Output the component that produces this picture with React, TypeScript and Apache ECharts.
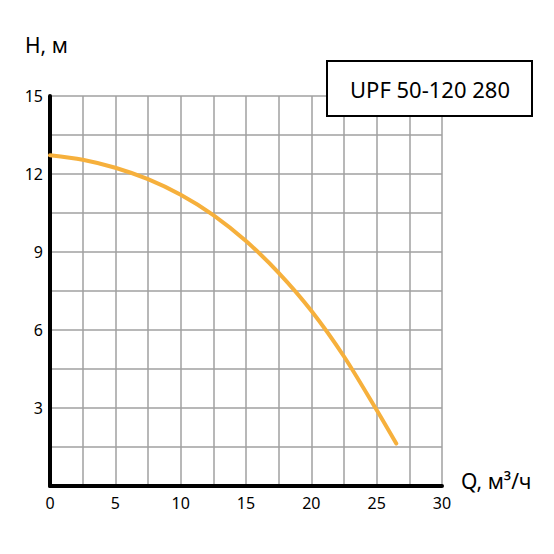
import React, { useEffect, useRef } from 'react';
import * as echarts from 'echarts';

// Q, м³/ч — flow values
const flow = [0, 2.5, 5, 7.5, 10, 12.5, 15, 17.5, 20, 22.5, 25, 26.5];
// H, м — head values
const head = [12.72, 12.55, 12.24, 11.8, 11.2, 10.42, 9.42, 8.2, 6.74, 4.98, 2.92, 1.63];

const xTicks = [0, 5, 10, 15, 20, 25, 30];
const yTicks = [3, 6, 9, 12, 15];
const modelName = 'UPF 50-120 280';

const FONT = '"Noto Sans", "Open Sans", sans-serif';

const App: React.FC = () => {
  const ref = useRef<HTMLDivElement | null>(null);

  useEffect(() => {
    if (!ref.current) return;
    const chart = echarts.init(ref.current, undefined, { renderer: 'svg' });
    chart.setOption({
      animation: false,
      backgroundColor: '#fff',
      grid: { left: 50, top: 96, right: 112, bottom: 68 },
      xAxis: {
        type: 'value', min: 0, max: 30, interval: 2.5,
        axisLine: { show: true, onZero: false, lineStyle: { color: '#000', width: 4 } },
        axisTick: { show: false },
        splitLine: { show: true, lineStyle: { color: '#a0a0a0', width: 1.5 } },
        axisLabel: {
          margin: 9, fontSize: 16, color: '#000', fontFamily: FONT,
          formatter: (v: number) => (xTicks.includes(v) ? String(v) : ''),
        },
      },
      yAxis: {
        type: 'value', min: 0, max: 15, interval: 1.5,
        axisLine: { show: true, onZero: false, lineStyle: { color: '#000', width: 4 } },
        axisTick: { show: false },
        splitLine: { show: true, lineStyle: { color: '#a0a0a0', width: 1.5 } },
        axisLabel: {
          margin: 7, fontSize: 16, color: '#000', fontFamily: FONT,
          formatter: (v: number) => (yTicks.includes(v) ? String(v) : ''),
        },
      },
      series: [{
        type: 'line',
        data: flow.map((q, i) => [q, head[i]]),
        smooth: 0.3,
        showSymbol: false,
        lineStyle: { color: '#f6b03c', width: 4, cap: 'round' },
      }],
      graphic: [
        { type: 'text', left: 25, top: 34, style: { text: 'H, м', fontSize: 21, fontFamily: FONT, fill: '#000' } },
        { type: 'text', left: 461, top: 470, style: { text: 'Q, м³/ч', fontSize: 21, fontFamily: FONT, fill: '#000' } },
        {
          type: 'rect', shape: { x: 327, y: 61, width: 205, height: 55 },
          style: { fill: '#fff', stroke: '#000', lineWidth: 2 }, z: 100,
        },
        {
          type: 'text', x: 430, y: 89, z: 101,
          style: { text: modelName, fontSize: 22, fontFamily: FONT, fill: '#000', align: 'center', verticalAlign: 'middle' },
        },
      ],
    });
    return () => chart.dispose();
  }, []);

  return <div ref={ref} style={{ width: 554, height: 554, margin: -8 }} />;
};

export default App;
